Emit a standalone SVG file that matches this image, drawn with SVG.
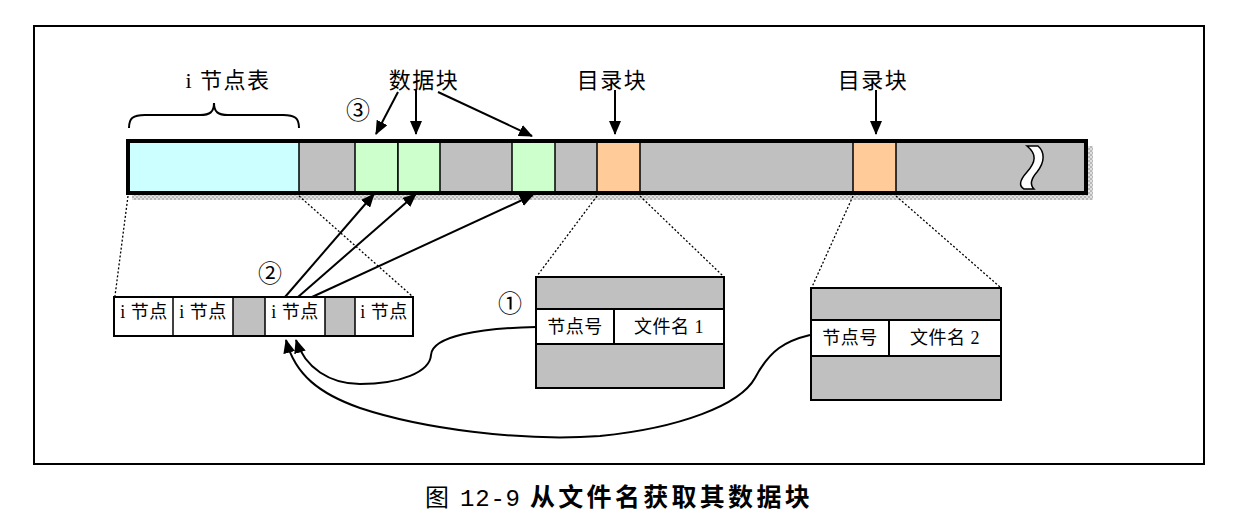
<svg xmlns="http://www.w3.org/2000/svg" width="1239" height="518" viewBox="0 0 1239 518">
<style>
.t{font-family:"Liberation Serif","Noto Sans CJK SC",serif;fill:#000;text-anchor:middle}
.lbl{font-size:22px;letter-spacing:1.5px}
.num{font-size:24px}
.cell{font-size:18px;letter-spacing:0.5px}
.c{stroke:#000;stroke-width:1.5}
.dot{stroke:#000;stroke-width:1.3;stroke-dasharray:2 2;fill:none}
.ln{stroke:#000;stroke-width:2;fill:none}
</style>
<defs>
<marker id="ah" viewBox="0 0 14 12" refX="13" refY="6" markerWidth="14" markerHeight="12" markerUnits="userSpaceOnUse" orient="auto">
<path d="M0,0 L14,6 L0,12 Z" fill="#000"/>
</marker>
<pattern id="sh" width="4" height="4" patternUnits="userSpaceOnUse">
<rect width="4" height="4" fill="#e0e0e0"/>
<rect width="2" height="2" fill="#b8b8b8"/>
<rect x="2" y="2" width="2" height="2" fill="#b8b8b8"/>
</pattern>
</defs>
<rect x="0" y="0" width="1239" height="518" fill="#fff"/>
<rect id="frame" x="34" y="26" width="1170" height="438" fill="none" stroke="#000" stroke-width="2"/>

<g id="disk">
<rect x="132" y="193" width="961" height="7" fill="url(#sh)"/>
<rect x="1086" y="146" width="7" height="54" fill="url(#sh)"/>
<rect x="128" y="141" width="958" height="52" fill="#c0c0c0"/>
<rect x="128" y="141" width="171" height="52" fill="#ccffff" class="c"/>
<rect x="355" y="141" width="43" height="52" fill="#ccffcc" class="c"/>
<rect x="398" y="141" width="42" height="52" fill="#ccffcc" class="c"/>
<rect x="512" y="141" width="43" height="52" fill="#ccffcc" class="c"/>
<rect x="597" y="141" width="43" height="52" fill="#ffcc99" class="c"/>
<rect x="853" y="141" width="43" height="52" fill="#ffcc99" class="c"/>
<path d="M1027,146 C1037,154 1036,162 1027,172 C1019,181 1019,186 1024,189 L1034,189 C1030,185 1030,180 1037,172 C1045,162 1045,152 1038,146 Z" fill="#fff" stroke="#000" stroke-width="1.5"/>
<rect x="128" y="141" width="958" height="52" fill="none" stroke="#000" stroke-width="4"/>
</g>

<g id="brace">
<path d="M129,128 C129,118 133,115 145,115 L200,115 C210,115 214,112 214,103 C214,112 218,115 228,115 L283,115 C295,115 299,118 299,128" class="ln" stroke-width="1.8"/>
</g>

<g id="labels">
<text x="228" y="88" class="t lbl">i 节点表</text>
<text x="424" y="88" class="t lbl">数据块</text>
<text x="612" y="88" class="t lbl">目录块</text>
<text x="873" y="88" class="t lbl">目录块</text>
<text x="358" y="119" class="t num">③</text>
<text x="270" y="282" class="t num">②</text>
<text x="510" y="312" class="t num">①</text>
</g>

<g id="inode-array">
<rect x="114" y="297" width="299" height="39" fill="#fff" stroke="#000" stroke-width="2"/>
<rect x="233" y="297" width="32" height="39" fill="#c0c0c0" class="c"/>
<rect x="325" y="297" width="30" height="39" fill="#c0c0c0" class="c"/>
<line x1="173" y1="297" x2="173" y2="336" class="c"/>
<rect x="114" y="297" width="299" height="39" fill="none" stroke="#000" stroke-width="2"/>
<text x="144" y="318" class="t cell">i 节点</text>
<text x="203" y="318" class="t cell">i 节点</text>
<text x="295" y="318" class="t cell">i 节点</text>
<text x="384" y="318" class="t cell">i 节点</text>
</g>

<g id="dir1">
<rect x="536" y="277" width="188" height="111" fill="#c0c0c0" stroke="#000" stroke-width="2"/>
<rect x="536" y="309" width="188" height="35" fill="#fff" stroke="#000" stroke-width="2"/>
<line x1="614" y1="309" x2="614" y2="344" stroke="#000" stroke-width="2"/>
<text x="575" y="333" class="t cell">节点号</text>
<text x="669" y="333" class="t cell">文件名 1</text>
</g>

<g id="dir2">
<rect x="811" y="288" width="190" height="112" fill="#c0c0c0" stroke="#000" stroke-width="2"/>
<rect x="811" y="320" width="190" height="36" fill="#fff" stroke="#000" stroke-width="2"/>
<line x1="889" y1="320" x2="889" y2="356" stroke="#000" stroke-width="2"/>
<text x="850" y="344" class="t cell">节点号</text>
<text x="945" y="344" class="t cell">文件名 2</text>
</g>

<g id="caption">
<text x="425" y="506" font-size="24" font-family="Liberation Serif,Noto Sans CJK SC,serif">图</text>
<text x="460" y="506" font-size="24" font-family="Liberation Mono,monospace" textLength="60">12-9</text>
<text x="530" y="506" font-size="25" font-family="Noto Sans CJK SC,sans-serif" font-weight="bold" letter-spacing="3.3">从文件名获取其数据块</text>
</g>

<g id="connectors">
<line x1="128" y1="196" x2="115" y2="296" class="dot"/>
<line x1="299" y1="196" x2="412" y2="296" class="dot"/>
<line x1="597" y1="196" x2="537" y2="276" class="dot"/>
<line x1="640" y1="196" x2="723" y2="276" class="dot"/>
<line x1="853" y1="196" x2="812" y2="287" class="dot"/>
<line x1="896" y1="196" x2="1000" y2="287" class="dot"/>

<line x1="398" y1="92" x2="376" y2="134" class="ln" marker-end="url(#ah)"/>
<line x1="416" y1="90" x2="416" y2="134" class="ln" marker-end="url(#ah)"/>
<line x1="438" y1="92" x2="532" y2="136" class="ln" marker-end="url(#ah)"/>
<line x1="615" y1="90" x2="615" y2="134" class="ln" marker-end="url(#ah)"/>
<line x1="876" y1="90" x2="876" y2="134" class="ln" marker-end="url(#ah)"/>

<line x1="285" y1="297" x2="374" y2="194" class="ln" marker-end="url(#ah)"/>
<line x1="298" y1="297" x2="416" y2="194" class="ln" marker-end="url(#ah)"/>
<line x1="312" y1="297" x2="533" y2="195" class="ln" marker-end="url(#ah)"/>

<path d="M536,327 C480,328 432,336 431,355 C430,372 400,384 360,384 C330,384 305,368 296,340" class="ln" marker-end="url(#ah)"/>
<path d="M810,335 C785,341 770,350 755,378 C740,405 680,428 600,436 C520,442 420,428 360,408 C320,394 295,375 286,340" class="ln" marker-end="url(#ah)"/>
</g>
</svg>
